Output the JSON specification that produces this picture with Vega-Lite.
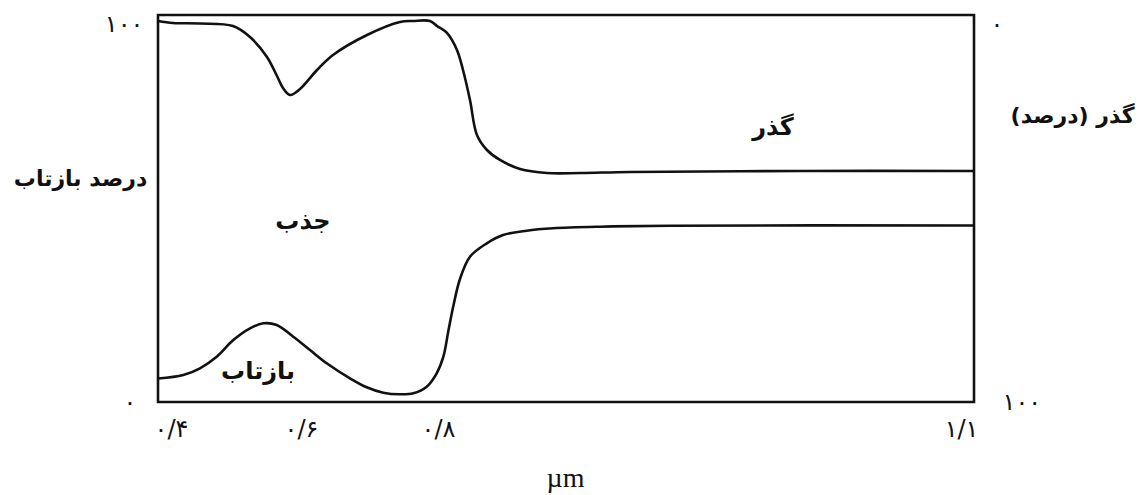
{
  "$schema": "https://vega.github.io/schema/vega-lite/v6.json",
  "width": 816,
  "height": 387,
  "autosize": {"type": "none"},
  "padding": {"left": 158, "top": 15, "right": 167, "bottom": 93},
  "background": "white",
  "config": {
    "view": {"stroke": "#111", "strokeWidth": 2.6},
    "font": "DejaVu Sans",
    "axis": {"domain": false, "grid": false, "labelColor": "#111", "titleColor": "#111"}
  },
  "datasets": {
    "reflectance": [
      {"um": 0.4, "pct": 6.17},
      {"um": 0.4354, "pct": 7.09},
      {"um": 0.4587, "pct": 8.85},
      {"um": 0.4821, "pct": 11.89},
      {"um": 0.5053, "pct": 16.27},
      {"um": 0.5287, "pct": 19.34},
      {"um": 0.5473, "pct": 20.66},
      {"um": 0.566, "pct": 20.21},
      {"um": 0.5892, "pct": 17.14},
      {"um": 0.6131, "pct": 13.65},
      {"um": 0.6375, "pct": 10.16},
      {"um": 0.6715, "pct": 6.22},
      {"um": 0.6959, "pct": 3.86},
      {"um": 0.7201, "pct": 2.44},
      {"um": 0.7445, "pct": 2.02},
      {"um": 0.7639, "pct": 2.28},
      {"um": 0.7835, "pct": 4.02},
      {"um": 0.7981, "pct": 7.53},
      {"um": 0.803, "pct": 11.89},
      {"um": 0.8059, "pct": 18.9},
      {"um": 0.8087, "pct": 25.46},
      {"um": 0.8123, "pct": 32.28},
      {"um": 0.8179, "pct": 38.14},
      {"um": 0.8273, "pct": 41.65},
      {"um": 0.8364, "pct": 43.83},
      {"um": 0.8496, "pct": 44.96},
      {"um": 0.8644, "pct": 45.59},
      {"um": 0.8907, "pct": 46.01},
      {"um": 0.9299, "pct": 46.27},
      {"um": 1.1, "pct": 46.33}
    ],
    "transmission": [
      {"um": 0.4, "T": 0},
      {"um": 0.421, "T": 0.52},
      {"um": 0.4587, "T": 0.66},
      {"um": 0.5049, "T": 1.31},
      {"um": 0.5287, "T": 4.2},
      {"um": 0.5524, "T": 9.45},
      {"um": 0.5664, "T": 14.44},
      {"um": 0.5748, "T": 17.59},
      {"um": 0.5846, "T": 19.42},
      {"um": 0.5986, "T": 17.85},
      {"um": 0.6234, "T": 12.86},
      {"um": 0.6467, "T": 8.92},
      {"um": 0.6964, "T": 3.67},
      {"um": 0.7445, "T": 0.26},
      {"um": 0.7635, "T": 0},
      {"um": 0.7883, "T": 0},
      {"um": 0.7985, "T": 1.31},
      {"um": 0.805, "T": 3.15},
      {"um": 0.8106, "T": 7.61},
      {"um": 0.814, "T": 12.86},
      {"um": 0.8179, "T": 20.73},
      {"um": 0.8218, "T": 29.92},
      {"um": 0.8274, "T": 33.86},
      {"um": 0.8347, "T": 36.48},
      {"um": 0.8459, "T": 38.85},
      {"um": 0.861, "T": 39.9},
      {"um": 0.8795, "T": 39.9},
      {"um": 0.9075, "T": 39.63},
      {"um": 1.0026, "T": 39.37},
      {"um": 1.1, "T": 39.37}
    ],
    "ticks": [
      {"um": 0.6},
      {"um": 0.8}
    ],
    "regions": [
      {"um": 0.9875, "pct": 71.9, "label": "گذر"},
      {"um": 0.6029, "pct": 47.2, "label": "جذب"},
      {"um": 0.5399, "pct": 7.87, "label": "بازتاب"}
    ]
  },
  "encoding": {
    "x": {
      "field": "um",
      "type": "quantitative",
      "scale": {"type": "linear", "domain": [0.4, 0.6, 0.8, 1.1], "range": [0, 143, 280, 816], "zero": false, "nice": false},
      "axis": {
        "values": [0.4, 0.6, 0.8, 1.1],
        "labelExpr": "datum.value == 0.4 ? '۰/۴' : datum.value == 0.6 ? '۰/۶' : datum.value == 0.8 ? '۰/۸' : '۱/۱'",
        "ticks": false,
        "labelFlush": true,
        "labelFlushOffset": 4,
        "labelFontSize": 24,
        "labelPadding": 27,
        "labelBaseline": "middle",
        "title": "µm",
        "titleFont": "Liberation Serif",
        "titleFontSize": 28,
        "titleFontWeight": "normal",
        "titleX": 407,
        "titleY": 76,
        "titleAlign": "center",
        "titleBaseline": "middle"
      }
    }
  },
  "layer": [
    {
      "encoding": {
        "y": {
          "field": "pct",
          "type": "quantitative",
          "scale": {"domain": [0, 101.57], "zero": false, "nice": false},
          "axis": {
            "values": [0, 100],
            "labelExpr": "datum.value == 0 ? '۰' : '۱۰۰'",
            "ticks": false,
            "labelFontSize": 24,
            "labelBaseline": "middle",
            "labelPadding": {"condition": {"test": "datum.value == 0", "value": 22}, "value": 15},
            "labelOffset": {"condition": {"test": "datum.value == 100", "value": 4}, "value": 0},
            "title": "درصد بازتاب",
            "titleAngle": 0,
            "titleFontSize": 22,
            "titleFontWeight": "bold",
            "titleX": -78,
            "titleY": 163,
            "titleAlign": "center",
            "titleBaseline": "middle"
          }
        }
      },
      "layer": [
        {
          "data": {"name": "reflectance"},
          "mark": {"type": "line", "color": "#111", "strokeWidth": 2.6, "interpolate": "catmull-rom"}
        },
        {
          "data": {"name": "ticks"},
          "mark": {"type": "rule", "color": "#111", "strokeWidth": 1.6},
          "encoding": {
            "y": {"datum": 2.1, "type": "quantitative"},
            "y2": {"datum": -1.3}
          }
        },
        {
          "data": {"name": "regions"},
          "mark": {"type": "text", "fontSize": 24, "fontWeight": "bold", "color": "#111", "align": "center", "baseline": "middle"},
          "encoding": {
            "text": {"field": "label"}
          }
        }
      ]
    },
    {
      "data": {"name": "transmission"},
      "mark": {"type": "line", "color": "#111", "strokeWidth": 2.6, "interpolate": "catmull-rom"},
      "encoding": {
        "y": {
          "field": "T",
          "type": "quantitative",
          "scale": {"domain": [-1.57, 100], "reverse": true, "zero": false, "nice": false},
          "axis": {
            "orient": "right",
            "values": [0, 100],
            "labelExpr": "datum.value == 0 ? '۰' : '۱۰۰'",
            "ticks": false,
            "labelFontSize": 24,
            "labelBaseline": "middle",
            "labelPadding": {"condition": {"test": "datum.value == 100", "value": 28}, "value": 16},
            "labelOffset": {"condition": {"test": "datum.value == 0", "value": 4}, "value": 0},
            "title": "(درصد) گذر",
            "titleAngle": 0,
            "titleFontSize": 22,
            "titleFontWeight": "bold",
            "titleX": 98,
            "titleY": 100,
            "titleAlign": "center",
            "titleBaseline": "middle"
          }
        }
      }
    }
  ],
  "resolve": {"scale": {"y": "independent"}}
}
